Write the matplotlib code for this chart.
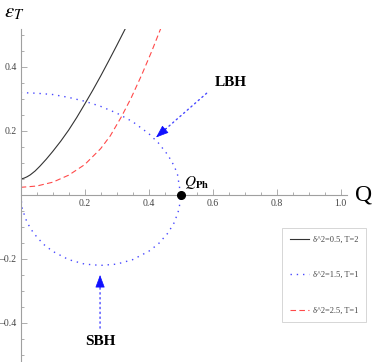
import matplotlib
matplotlib.use("Agg")
import matplotlib.pyplot as plt
from matplotlib.ticker import MultipleLocator, FixedLocator

plt.rcParams['mathtext.fontset'] = 'stix'
plt.rcParams['font.family'] = ['Liberation Serif', 'DejaVu Serif']

# --- data ---
q_black = [0, 0.01, 0.02, 0.03, 0.045, 0.06, 0.08, 0.1, 0.125, 0.15, 0.175, 0.2, 0.225, 0.25, 0.275, 0.3, 0.326]
e_black = [0.05, 0.0525, 0.057, 0.063, 0.075, 0.09, 0.112, 0.136, 0.168, 0.203, 0.242, 0.284, 0.327, 0.372, 0.419, 0.467, 0.518]

q_red = [0, 0.05, 0.1, 0.15, 0.2, 0.25, 0.28, 0.315, 0.345, 0.378, 0.409, 0.4375]
e_red = [0.024, 0.028, 0.04, 0.062, 0.095, 0.145, 0.185, 0.245, 0.303, 0.375, 0.448, 0.52]

q_blue_up = [0, 0.05, 0.1, 0.15, 0.2, 0.25, 0.3, 0.35, 0.4, 0.43, 0.46, 0.48, 0.49, 0.5]
e_blue_up = [0.32, 0.318, 0.314, 0.305, 0.293, 0.277, 0.256, 0.229, 0.192, 0.163, 0.125, 0.09, 0.064, 0.0]
q_blue_lo = [0, 0.005, 0.02, 0.04, 0.07, 0.1, 0.15, 0.2, 0.25, 0.3, 0.35, 0.4, 0.43, 0.46, 0.48, 0.495, 0.5]
e_blue_lo = [0, -0.044, -0.086, -0.119, -0.153, -0.176, -0.202, -0.216, -0.22, -0.216, -0.202, -0.176, -0.153, -0.119, -0.086, -0.044, 0]

q_ph = 0.5
labels = ["\u03b4^2=0.5, T=2", "\u03b4^2=1.5, T=1", "\u03b4^2=2.5, T=1"]
xticks = [0.2, 0.4, 0.6, 0.8, 1.0]
yticks = [-0.4, -0.2, 0.2, 0.4]

W, H = 374, 362
fig = plt.figure(figsize=(W / 100, H / 100), dpi=100)
x0, y0 = 20.7, 361.4
ax = fig.add_axes([x0 / W, (H - y0) / H, 326.4 / W, 332.8 / H])
ax.set_xlim(0, 1.02)
ax.set_ylim(-0.52, 0.52)

blue = '#4848ff'
l1, = ax.plot(q_black, e_black, color='#333333', lw=0.8, label=labels[0])
l2, = ax.plot(q_blue_up, e_blue_up, color=blue, lw=1.0, ls=(0, (1, 3.5)), label=labels[1])
ax.plot(q_blue_lo, e_blue_lo, color=blue, lw=1.0, ls=(0, (1, 3.5)))
l3, = ax.plot(q_red, e_red, color='#ff4a4a', lw=0.8, ls=(0, (5, 3)), label=labels[2])

ax.plot([q_ph], [0], 'o', color='black', ms=5.5, zorder=5, clip_on=False)

for s in ['top', 'right']:
    ax.spines[s].set_visible(False)
ax.spines['left'].set_position(('data', 0))
ax.spines['bottom'].set_position(('data', 0))
for s in ['left', 'bottom']:
    ax.spines[s].set_color('#a0a0a0')
    ax.spines[s].set_linewidth(0.8)

ax.xaxis.set_major_locator(FixedLocator(xticks))
ax.yaxis.set_major_locator(FixedLocator(yticks))
ax.xaxis.set_minor_locator(MultipleLocator(0.05))
ax.yaxis.set_minor_locator(MultipleLocator(0.05))
ax.set_xticklabels([f"{v:.1f}" for v in xticks])
ax.set_yticklabels([f"{v:.1f}".replace('-', '\u2013') for v in yticks])
ax.tick_params(which='both', direction='in', color='#a0a0a0', width=0.6,
               labelsize=7, labelcolor='#444444', pad=3)
ax.tick_params(which='major', length=4.5)
ax.tick_params(which='minor', length=2.5)

# axis labels
fig.text(4 / W, 1 - 3 / H, r'$\epsilon_T$', fontsize=15, va='top', ha='left')
ax.text(1.045, 0.0, 'Q', fontsize=17, va='center', ha='left')
ax.text(q_ph + 0.01, 0.012, r'$Q_{\mathbf{Ph}}$', fontsize=11, va='bottom', ha='left')

# annotations
ax.text(0.655, 0.352, 'LBH', fontsize=11, fontweight='bold', ha='center', va='center')
ax.text(0.248, -0.458, 'SBH', fontsize=11, fontweight='bold', ha='center', va='center')

ax.annotate('', xy=(0.423, 0.180), xytext=(0.581, 0.318),
            arrowprops=dict(arrowstyle='-', ls=(0, (1, 2.5)), color=blue, lw=1.0, shrinkA=0, shrinkB=0))
ax.annotate('', xy=(0.423, 0.180), xytext=(0.455, 0.208),
            arrowprops=dict(arrowstyle='-|>,head_length=0.8,head_width=0.3', color='#1010ff', lw=0.5,
                            shrinkA=0, shrinkB=0))
ax.annotate('', xy=(0.248, -0.25), xytext=(0.248, -0.416),
            arrowprops=dict(arrowstyle='-', ls=(0, (1, 2.5)), color=blue, lw=1.0, shrinkA=0, shrinkB=0))
ax.annotate('', xy=(0.248, -0.25), xytext=(0.248, -0.29),
            arrowprops=dict(arrowstyle='-|>,head_length=0.8,head_width=0.3', color='#1010ff', lw=0.5,
                            shrinkA=0, shrinkB=0))

leg = ax.legend(handles=[l1, l2, l3], loc='upper right',
                bbox_to_anchor=((366 - x0) / 326.4, (y0 - 228) / 332.8),
                fontsize=6, frameon=True, fancybox=False, edgecolor='#d0d0d0', framealpha=1,
                handlelength=2.3, labelspacing=3.3, borderpad=0.9, handletextpad=0.5,
                borderaxespad=0)
leg.get_frame().set_linewidth(0.6)
for t in leg.get_texts():
    t.set_color('#444444')

fig.savefig('out.png', dpi=100)
